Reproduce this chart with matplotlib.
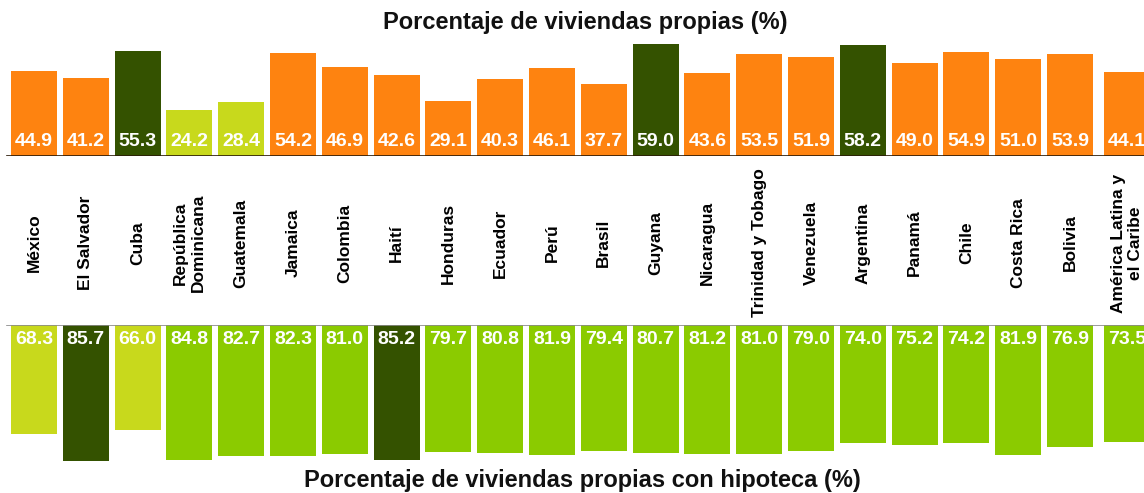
import matplotlib.pyplot as plt
import matplotlib.transforms as mtransforms
import numpy as np

plt.rcParams['font.family'] = ['Liberation Sans', 'DejaVu Sans']

# Data
countries = ["México", "El Salvador", "Cuba", "República\nDominicana", "Guatemala",
             "Jamaica", "Colombia", "Haití", "Honduras", "Ecuador", "Perú", "Brasil",
             "Guyana", "Nicaragua", "Trinidad y Tobago", "Venezuela", "Argentina",
             "Panamá", "Chile", "Costa Rica", "Bolivia", "América Latina y\nel Caribe"]
propias = [44.9, 41.2, 55.3, 24.2, 28.4, 54.2, 46.9, 42.6, 29.1, 40.3, 46.1, 37.7,
           59.0, 43.6, 53.5, 51.9, 58.2, 49.0, 54.9, 51.0, 53.9, 44.1]
hipoteca = [68.3, 85.7, 66.0, 84.8, 82.7, 82.3, 81.0, 85.2, 79.7, 80.8, 81.9, 79.4,
            80.7, 81.2, 81.0, 79.0, 74.0, 75.2, 74.2, 81.9, 76.9, 73.5]

ORANGE = "#fe8310"
GREEN = "#8bcb00"
DARK = "#345200"
LIME = "#c8d91c"


def pick_colors(vals, base, n_high, n_low):
    # last entry is the regional aggregate, keep it out of the ranking
    cols = [base] * len(vals)
    order = np.argsort(vals[:-1])
    for i in order[-n_high:]:
        cols[i] = DARK
    for i in order[:n_low]:
        cols[i] = LIME
    return cols


W, H = 1144, 493
fig = plt.figure(figsize=(W / 100, H / 100), dpi=100)

x = np.arange(len(countries), dtype=float)
x[-1] += 0.1
pitch = 51.8
xlim = (-34 / pitch, (W - 34) / pitch)

# top panel: baseline at y=156px, 1.9 px per unit
ax1 = fig.add_axes([0, (H - 156) / H, 1, 120 / H])
ax1.bar(x, propias, width=0.89, color=pick_colors(propias, ORANGE, 3, 2))
ax1.set_xlim(*xlim)
ax1.set_ylim(0, 120 / 1.9)
ax1.axhline(0, xmin=0.006, color="#2a1a08", lw=1.2)
for xi, v in zip(x, propias):
    ax1.text(xi, 15 / 1.9, f"{v:.1f}", ha="center", va="center",
             color="white", fontsize=14, fontweight="bold")
ax1.axis("off")

# bottom panel: baseline at y=325px, 1.59 px per unit, bars hang down
ax2 = fig.add_axes([0, (H - 470) / H, 1, 145 / H])
ax2.bar(x, hipoteca, width=0.89, color=pick_colors(hipoteca, GREEN, 2, 2))
ax2.set_xlim(*xlim)
ax2.set_ylim(145 / 1.59, 0)
ax2.axhline(0, xmin=0.006, color="#8a8a8a", lw=1.2)
for xi, v in zip(x, hipoteca):
    ax2.text(xi, 15 / 1.59, f"{v:.1f}", ha="center", va="center",
             color="white", fontsize=14, fontweight="bold")
ax2.axis("off")

# country names in the middle band
trans = mtransforms.blended_transform_factory(ax1.transData, fig.transFigure)
for xi, name in zip(x, countries):
    fig.text(xi, (H - 243) / H, name, transform=trans, rotation=90,
             ha="center", va="center", multialignment="center",
             fontsize=12.5, fontweight="bold", linespacing=1.2)

fig.text(585 / W, (H - 22) / H, "Porcentaje de viviendas propias (%)",
         ha="center", va="center", fontsize=17, fontweight="bold", color="#111111")
fig.text(582 / W, (H - 481) / H, "Porcentaje de viviendas propias con hipoteca (%)",
         ha="center", va="center", fontsize=17, fontweight="bold", color="#111111")

fig.savefig("out.png", dpi=100)
